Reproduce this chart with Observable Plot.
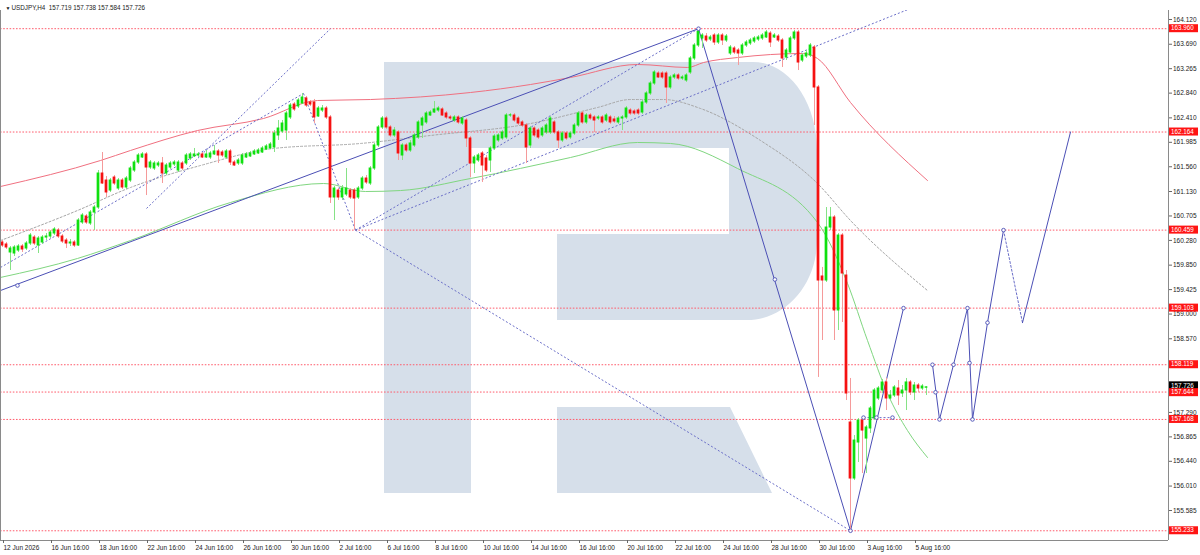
<!DOCTYPE html>
<html><head><meta charset="utf-8">
<script src="https://cdn.jsdelivr.net/npm/d3@7"></script>
<script src="https://cdn.jsdelivr.net/npm/@observablehq/plot@0.6"></script>
<style>
html,body{margin:0;padding:0;background:#fff;}
#chart svg{display:block;}
</style></head><body><div id="chart"></div>
<script>
// ---- data (H4 bars, index 0 = 12 Jun 2026 16:00) ----
const open = [
160.244,160.209,160.070,160.052,160.104,160.174,160.139,160.226,160.330,160.191,
160.244,160.330,160.348,160.400,160.452,160.348,160.278,160.226,160.244,160.191,
160.591,160.696,160.574,160.765,160.852,161.443,161.321,161.147,161.373,161.182,
161.321,161.200,161.321,161.495,161.634,161.721,161.774,161.547,161.530,161.582,
161.617,161.443,161.547,161.600,161.495,161.617,161.617,161.704,161.739,161.756,
161.774,161.721,161.721,161.774,161.826,161.808,161.721,161.826,161.634,161.617,
161.617,161.721,161.739,161.774,161.791,161.808,161.860,161.878,161.895,162.104,
162.173,162.190,162.417,162.642,162.608,162.660,162.747,162.677,162.677,162.434,
162.538,162.573,162.417,161.026,161.147,161.026,161.078,161.147,161.147,161.026,
161.182,161.356,161.269,161.530,161.930,162.243,162.399,162.243,162.104,162.156,
161.756,161.930,161.843,161.930,162.069,162.277,162.330,162.451,162.503,162.538,
162.556,162.486,162.417,162.364,162.417,162.312,162.364,162.052,161.617,161.669,
161.791,161.704,161.669,161.878,162.017,162.052,162.069,162.451,162.451,162.399,
162.330,162.277,161.930,162.225,162.190,162.104,162.156,162.156,162.330,162.156,
162.017,162.138,162.069,162.138,162.277,162.486,162.330,162.451,162.417,162.399,
162.417,162.364,162.417,162.382,162.330,162.399,162.417,162.538,162.521,162.538,
162.503,162.677,162.834,163.007,163.181,163.181,163.181,162.938,163.112,163.147,
163.094,163.060,163.199,163.442,163.668,163.790,163.824,163.772,163.842,163.720,
163.842,163.755,163.529,163.616,163.581,163.529,163.668,163.703,163.737,163.772,
163.790,163.807,163.876,163.807,163.824,163.755,163.459,163.546,163.790,163.894,
163.407,163.477,163.494,163.633,162.938,159.653,159.583,160.504,160.678,159.062,
160.365,159.670,157.115,156.141,156.767,157.149,156.836,157.011,157.184,157.532,
157.671,157.811,157.532,157.584,157.706,157.619,157.671,157.811,157.637,157.758,
157.706,157.719];
const high = [
160.278,160.244,160.174,160.191,160.209,160.209,160.261,160.400,160.365,160.348,
160.365,160.400,160.452,160.504,160.487,160.383,160.313,160.296,160.278,160.661,
160.748,160.730,160.800,160.887,161.495,161.808,161.391,161.356,161.408,161.356,
161.356,161.391,161.565,161.669,161.791,161.808,161.808,161.669,161.652,161.652,
161.721,161.617,161.652,161.669,161.669,161.652,161.791,161.808,161.878,161.808,
161.808,161.843,161.826,161.930,161.860,161.843,161.860,161.860,161.669,161.704,
161.791,161.808,161.826,161.860,161.878,161.913,161.947,161.982,162.190,162.364,
162.364,162.521,162.660,162.677,162.747,162.834,162.782,162.712,162.730,162.608,
162.625,162.608,162.451,161.217,161.182,161.234,161.530,161.182,161.182,161.217,
161.391,161.408,161.565,161.965,162.277,162.434,162.434,162.277,162.243,162.190,
161.965,161.965,162.017,162.138,162.364,162.434,162.521,162.538,162.695,162.608,
162.590,162.521,162.451,162.451,162.451,162.434,162.399,162.086,161.756,161.791,
161.826,161.756,161.913,162.121,162.138,162.190,162.486,162.486,162.486,162.434,
162.364,162.312,162.260,162.260,162.225,162.260,162.312,162.434,162.364,162.190,
162.173,162.173,162.173,162.312,162.521,162.521,162.486,162.486,162.451,162.451,
162.451,162.486,162.451,162.434,162.434,162.451,162.608,162.573,162.556,162.573,
162.712,162.869,163.042,163.233,163.216,163.216,163.216,163.147,163.181,163.181,
163.147,163.181,163.477,163.703,163.960,163.876,163.876,163.842,163.876,163.876,
163.876,163.859,163.668,163.650,163.616,163.703,163.755,163.790,163.824,163.842,
163.876,163.929,163.911,163.876,163.859,163.790,163.616,163.824,163.929,163.929,
163.529,163.581,163.703,163.668,162.973,159.810,160.852,160.852,160.713,160.400,
160.400,159.757,157.880,156.888,157.184,157.184,157.062,157.393,157.706,157.741,
157.863,157.880,157.671,157.758,157.845,157.758,157.880,157.845,157.811,157.793,
157.776,157.738];
const low = [
160.157,160.122,159.757,160.000,160.070,160.070,160.104,160.191,160.191,160.052,
160.209,160.278,160.313,160.365,160.313,160.226,160.139,160.174,160.157,160.174,
160.557,160.557,160.539,160.452,160.817,161.252,161.026,161.113,161.234,161.147,
161.165,161.165,161.287,161.460,161.600,161.704,161.060,161.513,161.495,161.547,
161.269,161.408,161.513,161.565,161.460,161.495,161.582,161.669,161.721,161.721,
161.704,161.704,161.687,161.756,161.617,161.721,161.687,161.582,161.565,161.582,
161.582,161.704,161.721,161.756,161.774,161.791,161.843,161.860,161.808,162.017,
162.138,162.017,162.382,162.521,162.573,162.642,162.590,162.608,162.312,162.417,
162.503,162.382,160.922,160.626,160.974,160.974,161.043,160.991,160.459,160.991,
161.147,161.252,161.234,161.495,161.895,162.208,162.208,162.069,162.069,161.669,
161.669,161.808,161.808,161.895,162.034,162.052,162.295,162.434,162.486,162.503,
162.434,162.382,162.364,162.330,162.295,162.277,161.895,161.373,161.443,161.634,
161.287,161.460,161.460,161.843,161.982,162.017,162.034,162.417,162.330,162.277,
162.243,161.617,161.878,162.069,162.034,162.069,162.121,162.121,162.121,161.878,
161.982,162.017,162.034,162.104,162.243,162.295,162.295,162.364,162.156,162.364,
162.295,162.330,162.295,162.312,162.295,162.190,162.382,162.451,162.451,162.451,
162.469,162.642,162.799,162.973,163.094,163.077,162.660,162.903,163.077,163.060,
163.060,163.025,163.164,163.407,163.633,163.616,163.720,163.737,163.668,163.685,
163.668,163.720,163.494,163.511,163.320,163.494,163.633,163.668,163.703,163.737,
163.755,163.790,163.633,163.790,163.720,163.286,163.407,163.511,163.755,163.233,
163.372,163.442,163.459,162.277,157.898,158.540,159.549,160.452,158.540,158.714,
158.853,157.497,155.233,156.106,156.419,156.228,156.228,156.923,157.149,157.497,
157.619,157.323,157.497,157.550,157.410,157.550,157.323,157.584,157.497,157.637,
157.671,157.584];
const close = [
160.191,160.157,160.139,160.157,160.174,160.122,160.226,160.365,160.226,160.313,
160.330,160.348,160.417,160.470,160.348,160.261,160.226,160.244,160.191,160.626,
160.713,160.591,160.765,160.852,161.443,161.269,161.113,161.321,161.269,161.321,
161.200,161.356,161.530,161.634,161.756,161.774,161.547,161.634,161.617,161.617,
161.443,161.582,161.617,161.634,161.634,161.530,161.756,161.774,161.774,161.774,
161.721,161.774,161.791,161.826,161.756,161.756,161.826,161.634,161.582,161.669,
161.756,161.774,161.791,161.826,161.843,161.878,161.913,161.947,162.138,162.225,
162.312,162.486,162.625,162.556,162.712,162.764,162.625,162.642,162.417,162.573,
162.573,162.417,161.026,161.182,161.026,161.182,161.182,161.026,161.008,161.182,
161.356,161.287,161.530,161.930,162.243,162.399,162.243,162.104,162.190,161.791,
161.930,161.843,161.965,162.104,162.330,162.399,162.486,162.503,162.556,162.573,
162.451,162.417,162.399,162.417,162.330,162.399,162.052,161.617,161.721,161.756,
161.582,161.495,161.878,162.086,162.104,162.156,162.451,162.455,162.364,162.312,
162.277,161.895,162.225,162.104,162.069,162.225,162.277,162.399,162.156,162.017,
162.138,162.052,162.138,162.277,162.486,162.330,162.451,162.399,162.364,162.417,
162.330,162.451,162.330,162.347,162.399,162.417,162.573,162.486,162.486,162.486,
162.677,162.834,163.007,163.199,163.112,163.112,162.938,163.112,163.147,163.094,
163.112,163.147,163.442,163.668,163.911,163.842,163.755,163.807,163.720,163.842,
163.755,163.824,163.633,163.546,163.529,163.668,163.720,163.755,163.790,163.807,
163.842,163.894,163.720,163.842,163.755,163.442,163.581,163.790,163.894,163.372,
163.494,163.529,163.668,162.938,159.583,159.583,160.504,160.678,159.062,160.365,
159.705,157.619,156.141,156.801,157.149,156.975,157.028,157.358,157.671,157.706,
157.811,157.532,157.584,157.724,157.584,157.671,157.811,157.637,157.758,157.706,
157.741,157.726];

// moving-average style curves (bar index, price)
const redMaIdx = [-0.5,24.5,32,48.75,65.25,78.75,92,117,132,142,158.75,171.25,175.25,183.75,200.25,203.75,212,231.25];
const redMaPx  = [161.217,161.669,161.843,162.190,162.399,162.712,162.729,162.851,162.990,163.112,163.338,163.286,163.372,163.459,163.529,163.442,162.677,161.321];
const greenMaIdx = [-0.5,18.75,32,57,80.25,90.75,99.5,117,142,158.75,167,183.75,203.75,211.25,216.25,221.25,226.25,231.25];
const greenMaPx  = [159.636,159.966,160.278,160.939,161.269,161.130,161.147,161.356,161.721,161.982,161.965,161.530,160.591,159.532,158.540,157.619,156.975,156.507];
const grayMaIdx = [-0.5,18.75,32,49.5,67.75,89.5,107,132,148.75,157,165.25,174.5,189.5,203.75,212,231.25];
const grayMaPx  = [160.278,160.800,161.200,161.582,161.878,161.965,162.104,162.312,162.590,162.729,162.729,162.573,162.017,161.269,160.626,159.409];

// trend lines [index1, price1, index2, price2]
const solidTrends = [
  [-0.5,159.409,174,163.960],
  [174,163.960,212,155.233],
  [212,155.233,225.25,159.103]
];
const dottedTrends = [
  [-0.5,159.810,75.25,162.834],
  [36,160.835,82,163.960],
  [75.25,162.834,88.25,160.459],
  [88.25,160.459,212,155.233],
  [88.25,160.459,174,163.960],
  [88.25,160.459,227,164.311],
  [215.25,157.200,222.5,157.200]
];
const forecastIdx = [232.5,234.25,237.75,241.25,242.5,246.25,250.25,255,267];
const forecastPx  = [158.119,157.168,158.119,159.103,157.168,158.850,160.459,158.850,162.164];
const anchorIdx = [3.75,174,193.1,212,225.25,215.25,218.5,222.5,232.5,233.25,234.25,237.75,241.25,241.75,242.5,246.25,250.25];
const anchorPx  = [159.496,163.960,159.601,155.233,159.103,157.200,157.200,157.200,158.119,157.640,157.168,158.119,159.103,158.150,157.168,158.850,160.459];

const levels = [163.960,162.164,160.459,159.103,158.119,157.644,157.168,155.233];
const lastPrice = 157.726;
const yTicks = [164.120,163.690,163.265,162.840,162.410,161.985,161.560,161.130,160.705,160.280,159.850,159.425,159.000,158.570,157.290,156.865,156.440,156.010,155.585];
const xTickIdx = [0,12,24,36,48,60,72,84,96,108,120,132,144,156,168,180,192,204,216,228];
const xTickLabels = ["12 Jun 2026","16 Jun 16:00","18 Jun 16:00","22 Jun 16:00","24 Jun 16:00","26 Jun 16:00","30 Jun 16:00","2 Jul 16:00","6 Jul 16:00","8 Jul 16:00","10 Jul 16:00","14 Jul 16:00","16 Jul 16:00","20 Jul 16:00","22 Jul 16:00","24 Jul 16:00","28 Jul 16:00","30 Jul 16:00","3 Aug 16:00","5 Aug 16:00"];
const symbolTitle = "USDJPY,H4\u00a0\u00a0157.719 157.738 157.584 157.726";

// ---- build ----
const FONT = "'Liberation Sans', Arial, sans-serif";
const yTop = 164.2764, yBot = 155.0638;
const bars = open.map((o, i) => ({i, o, h: high[i], l: low[i], c: close[i]}));
const up = bars.filter(d => d.c >= d.o), dn = bars.filter(d => d.c < d.o);
const pts = (xs, ys) => xs.map((x, k) => ({x, y: ys[k]}));
const segs = a => a.map(([x1, y1, x2, y2]) => ({x1, y1, x2, y2}));
const fc = pts(forecastIdx, forecastPx);

const GREEN = "#0fe00f", GREEN_W = "#86e286", RED = "#f51212", RED_W = "#f59a9a";
const BLUE = "#4b4fb5", BLUE_D = "#6a6ec8";

const LOGO = "M384,62H471V493H384Z" +
  "M471,62H753C788.3,62 817,101.4 817,150V240C817,284.2 785.7,320 747,320H557V234H729V148H471Z" +
  "M557,407H730L772,493H557Z";

function watermark(index, scales, values, dims) {
  const g = d3.create("svg:g");
  g.append("path").attr("d", LOGO).attr("fill", "#d6dfea");
  return g.node();
}

function axisBoxes(index, scales, values, dims) {
  const y = (scales && typeof scales.y === "function") ? scales.y
    : (v => 10 + (yTop - v) / (yTop - yBot) * 530);
  const xr = dims.width - dims.marginRight;
  const g = d3.create("svg:g").attr("font-family", FONT).attr("font-size", 6.3).attr("text-anchor", "start");
  const f = d3.format(".3f");
  const draw = (v, fill, off) => {
    const yy = y(v) + off;
    g.append("rect").attr("x", xr + 1).attr("y", yy - 4).attr("width", 29).attr("height", 8).attr("fill", fill);
    g.append("text").attr("x", xr + 3).attr("y", yy).attr("dy", "0.35em").attr("text-anchor", "start").attr("fill", "#fff").text(f(v));
  };
  draw(lastPrice, "#000", -1.5);
  levels.forEach(v => draw(v, "#ff1414", v === 157.644 ? 0.6 : 0));
  return g.node();
}

const chart = Plot.plot({
  width: 1200, height: 555,
  marginLeft: 0, marginRight: 32, marginTop: 10, marginBottom: 15,
  x: {domain: [-0.5, 291.5]},
  y: {domain: [yBot, yTop]},
  style: {fontFamily: FONT, fontSize: "6.5px", color: "#222", background: "#fff", overflow: "visible"},
  marks: [
    watermark,
    Plot.ruleY(levels, {stroke: "#ff5c6c", strokeDasharray: "1.6,1.6", strokeWidth: 1}),
    Plot.line(pts(grayMaIdx, grayMaPx), {x: "x", y: "y", stroke: "#a6a6a6", strokeDasharray: "2,2", strokeWidth: 1, curve: "monotone-x"}),
    Plot.line(pts(greenMaIdx, greenMaPx), {x: "x", y: "y", stroke: "#80d680", strokeWidth: 1, curve: "monotone-x"}),
    Plot.line(pts(redMaIdx, redMaPx), {x: "x", y: "y", stroke: "#f07080", strokeWidth: 1, curve: "monotone-x"}),
    Plot.link(segs(dottedTrends), {x1: "x1", y1: "y1", x2: "x2", y2: "y2", stroke: BLUE_D, strokeDasharray: "2,2", strokeWidth: 1, clip: true}),
    Plot.link(segs(solidTrends), {x1: "x1", y1: "y1", x2: "x2", y2: "y2", stroke: BLUE, strokeWidth: 1, clip: true}),
    Plot.line(fc.slice(0, 7), {x: "x", y: "y", stroke: BLUE, strokeWidth: 1}),
    Plot.line(fc.slice(6, 8), {x: "x", y: "y", stroke: BLUE_D, strokeDasharray: "2,2", strokeWidth: 1}),
    Plot.line(fc.slice(7), {x: "x", y: "y", stroke: BLUE, strokeWidth: 1}),
    Plot.ruleX(up, {x: "i", y1: "l", y2: "h", stroke: GREEN_W, strokeWidth: 1}),
    Plot.ruleX(dn, {x: "i", y1: "l", y2: "h", stroke: RED_W, strokeWidth: 1}),
    Plot.rect(up, {x1: d => d.i - 0.34, x2: d => d.i + 0.34, y1: "o", y2: "c", fill: GREEN, insetTop: -0.5, insetBottom: -0.5}),
    Plot.rect(dn, {x1: d => d.i - 0.34, x2: d => d.i + 0.34, y1: "o", y2: "c", fill: RED, insetTop: -0.5, insetBottom: -0.5}),
    Plot.dot(pts(anchorIdx, anchorPx), {x: "x", y: "y", r: 1.8, stroke: BLUE, fill: "#fff", strokeWidth: 0.9}),
    Plot.ruleX([-0.5, 291.5], {stroke: "#8a8a8a", strokeWidth: 1}),
    Plot.ruleY([yBot], {stroke: "#8a8a8a", strokeWidth: 1}),
    Plot.axisY({anchor: "right", ticks: yTicks, tickFormat: d3.format(".3f"), tickSize: 3, tickPadding: 1.5, label: null, fontSize: 6.5, stroke: "#666"}),
    Plot.axisX({ticks: xTickIdx, tickFormat: d => xTickLabels[xTickIdx.indexOf(d)], tickSize: 3, tickPadding: 2, textAnchor: "start", dx: 1, label: null, fontSize: 6.5, stroke: "#666"}),
    axisBoxes,
    Plot.text(["\u25BC"], {frameAnchor: "top-left", dx: 5, dy: -4.5, fontSize: 5, fill: "#111"}),
    Plot.text([symbolTitle], {frameAnchor: "top-left", dx: 11, dy: -4.5, textAnchor: "start", fontSize: 6.3, fill: "#222"})
  ]
});
document.getElementById("chart").appendChild(chart);
</script>
</body></html>
